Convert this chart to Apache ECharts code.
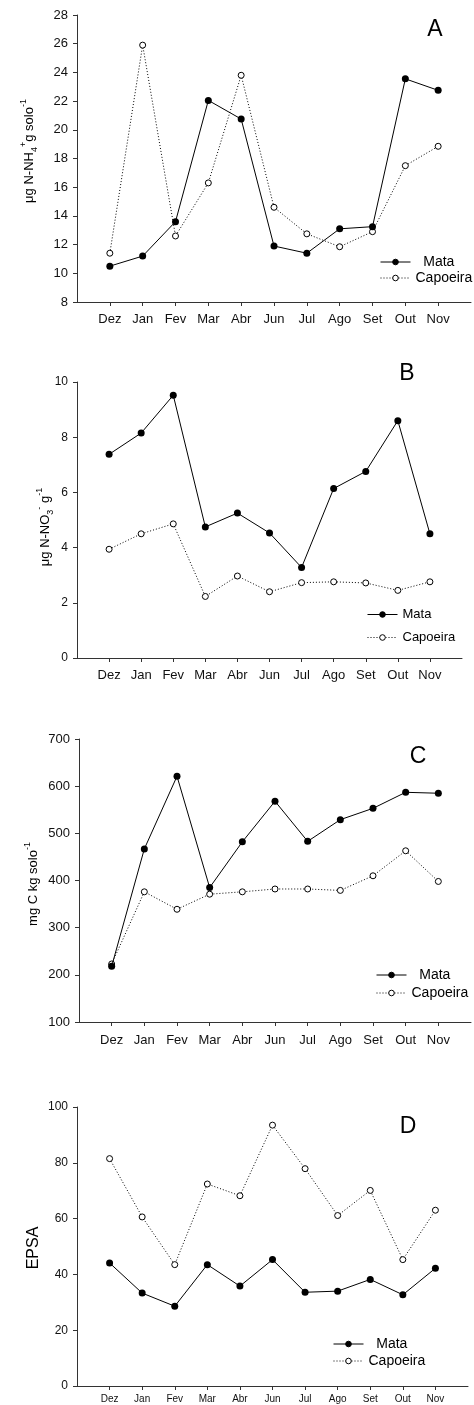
<!DOCTYPE html>
<html>
<head>
<meta charset="utf-8">
<script src="https://cdn.jsdelivr.net/npm/echarts@6/dist/echarts.min.js"></script>
<style>
html,body{margin:0;padding:0;background:#fff;}
#chart{width:474px;height:1405px;}
</style>
</head>
<body>
<div id="chart"></div>
<script>
// ---- data ----
const months = ['Dez','Jan','Fev','Mar','Abr','Jun','Jul','Ago','Set','Out','Nov'];

const mataA = [10.5, 11.2, 13.6, 22.05, 20.75, 11.9, 11.4, 13.1, 13.25, 23.55, 22.75];
const capA  = [11.4, 25.9, 12.6, 16.3, 23.8, 14.6, 12.75, 11.85, 12.9, 17.5, 18.85];

const mataB = [7.38, 8.15, 9.52, 4.75, 5.25, 4.53, 3.28, 6.14, 6.76, 8.6, 4.5];
const capB  = [3.94, 4.5, 4.86, 2.23, 2.97, 2.4, 2.73, 2.76, 2.72, 2.45, 2.76];

const mataC = [218, 467, 621, 385, 482, 568, 483, 529, 553, 587, 585];
const capC  = [223, 376, 339, 371, 376, 382, 382, 379, 410, 463, 398];

const mataD = [44.1, 33.3, 28.6, 43.5, 35.8, 45.3, 33.6, 34.0, 38.2, 32.7, 42.2];
const capD  = [81.5, 60.6, 43.5, 72.4, 68.2, 93.5, 77.9, 61.1, 70.1, 45.3, 63.0];

const yTicksA = {min: 8, max: 28, interval: 2};
const yTicksB = {min: 0, max: 10, interval: 2};
const yTicksC = {min: 100, max: 700, interval: 100};
const yTicksD = {min: 0, max: 100, interval: 20};

// ---- layout ----
const FONT = "'Liberation Sans', Arial, sans-serif";
const cats = [''].concat(months).concat(['']);

const panels = [
  {grid:{left:77, top:15, width:405.5, height:287}, y:yTicksA, mata:mataA, cap:capA,
   yFont:13, xFont:13, xMargin:11, letter:'A', lx:435, ly:30,
   legend:{left:380, top:254, font:14, lh:16, gap:0, sp:true}},
  {grid:{left:77, top:382, width:385, height:276}, y:yTicksB, mata:mataB, cap:capB,
   yFont:12, xFont:13, xMargin:11, letter:'B', lx:407, ly:374,
   legend:{left:367, top:607, font:13, lh:15, gap:8, sp:false}},
  {grid:{left:79, top:739, width:396, height:283}, y:yTicksC, mata:mataC, cap:capC,
   yFont:13, xFont:13, xMargin:12, letter:'C', lx:418, ly:757,
   legend:{left:376, top:967, font:14, lh:16, gap:2, sp:true}},
  {grid:{left:77, top:1107, width:391, height:279}, y:yTicksD, mata:mataD, cap:capD,
   yFont:12, xFont:10, xMargin:8, letter:'D', lx:408, ly:1127,
   legend:{left:333, top:1336, font:14, lh:16, gap:1, sp:true}}
];

const axisColor = '#333';
const grid = [], xAxis = [], yAxis = [], series = [], legend = [], graphic = [];

panels.forEach((p, k) => {
  grid.push(Object.assign({containLabel:false}, p.grid));
  xAxis.push({
    type:'category', gridIndex:k, data:cats, boundaryGap:false,
    axisLine:{show:true, lineStyle:{color:axisColor, width:1}},
    axisTick:{show:true, length:4, inside:false, interval:(i)=> i>0 && i<cats.length-1,
              lineStyle:{color:axisColor}},
    axisLabel:{interval:0, fontSize:p.xFont, fontFamily:FONT, color:'#111', margin:p.xMargin},
    splitLine:{show:false}
  });
  yAxis.push({
    type:'value', gridIndex:k, min:p.y.min, max:p.y.max, interval:p.y.interval,
    axisLine:{show:true, lineStyle:{color:axisColor, width:1}},
    axisTick:{show:true, length:4, inside:false, lineStyle:{color:axisColor}},
    axisLabel:{fontSize:p.yFont, fontFamily:FONT, color:'#111', margin:9},
    splitLine:{show:false}
  });
  series.push({
    name:'Mata', type:'line', xAxisIndex:k, yAxisIndex:k,
    data:p.mata.map((v,i)=>[i+1, v]),
    symbol:'circle', symbolSize:7,
    lineStyle:{color:'#000', width:1, type:'solid'},
    itemStyle:{color:'#000', borderColor:'#000', borderWidth:0},
    z:3
  });
  series.push({
    name:'Capoeira', type:'line', xAxisIndex:k, yAxisIndex:k,
    data:p.cap.map((v,i)=>[i+1, v]),
    symbol:'circle', symbolSize:6,
    lineStyle:{color:'#000', width:1, type:[1,2]},
    itemStyle:{color:'#fff', borderColor:'#000', borderWidth:1},
    z:2
  });
  const L = p.legend;
  legend.push({
    data:['Mata','Capoeira'], orient:'vertical', left:L.left, top:L.top,
    padding:0, itemGap:L.gap, itemWidth:30, itemHeight:7,
    formatter:(n)=> (L.sp && n==='Mata') ? '  ' + n : n,
    itemStyle:{borderWidth:1},
    lineStyle:{width:1},
    textStyle:{fontSize:L.font, lineHeight:L.lh, fontFamily:FONT, color:'#000'},
    selectedMode:false
  });
  graphic.push({
    type:'text', x:p.lx, y:p.ly,
    style:{text:p.letter, font:'23px ' + FONT, fill:'#000', align:'center', verticalAlign:'middle'}
  });
});

const rich = {
  a:{fontSize:13, fontFamily:FONT, lineHeight:20, verticalAlign:'middle', fill:'#000', color:'#000'},
  sup:{fontSize:9, fontFamily:FONT, verticalAlign:'top', color:'#000'},
  sub:{fontSize:9, fontFamily:FONT, verticalAlign:'bottom', color:'#000'}
};
const yTitles = [
  {x:29, y:151, text:'{a|μg N-NH}{sub|4}{sup|+}{a|g solo}{sup|-1}'},
  {x:45, y:527, text:'{a|μg N-NO}{sub|3}{sup|-}{a| g}{sup|-1}'},
  {x:33, y:884, text:'{a|mg C kg solo}{sup|-1}'},
  {x:34, y:1248, text:'{e|EPSA}'}
];
yTitles.forEach(t => {
  graphic.push({
    type:'text', x:t.x, y:t.y, rotation:Math.PI/2,
    style:{text:t.text, align:'center', verticalAlign:'middle', fill:'#000',
      rich:Object.assign({e:{fontSize:16, fontFamily:FONT, color:'#000', fill:'#000'}}, rich)}
  });
});

const chart = echarts.init(document.getElementById('chart'), null, {renderer:'canvas'});
chart.setOption({
  animation:false,
  backgroundColor:'#fff',
  textStyle:{fontFamily:FONT},
  grid, xAxis, yAxis, series, legend, graphic
});
</script>
</body>
</html>
